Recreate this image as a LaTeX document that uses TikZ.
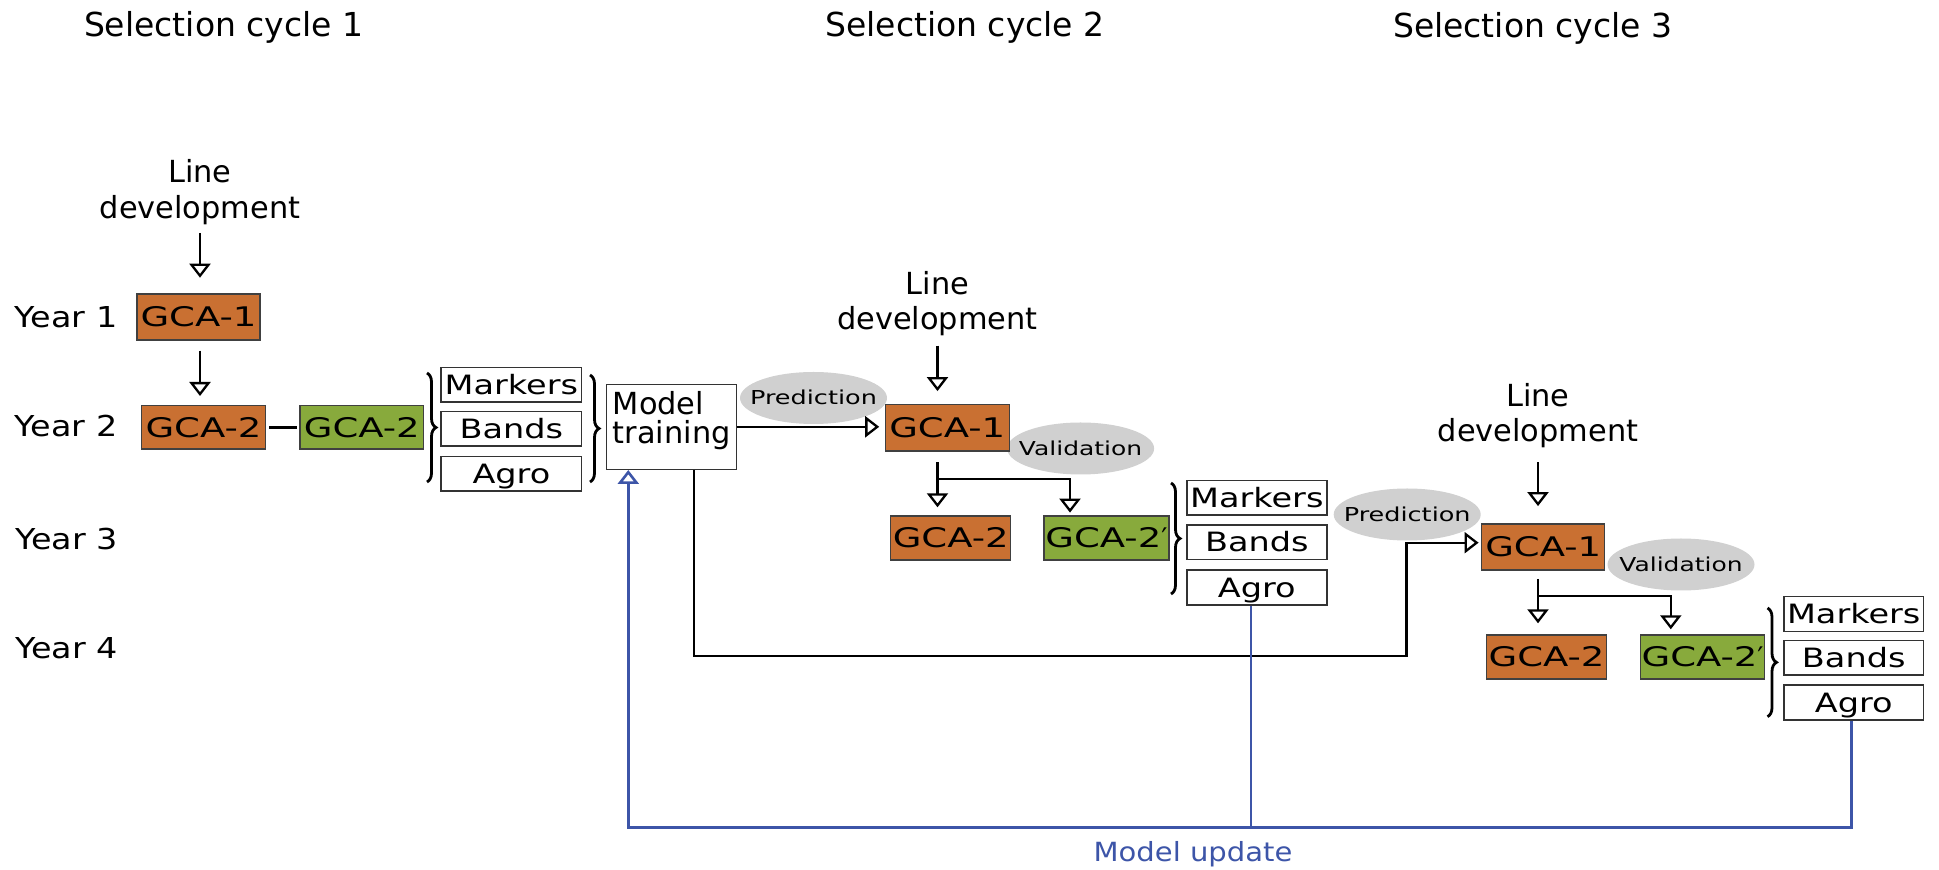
\documentclass[tikz,border=0pt]{standalone}
\usepackage{fontspec}
\setmainfont{DejaVu Sans}
\usepackage{graphicx}
\usetikzlibrary{arrows.meta,shapes.geometric,decorations.pathreplacing,calc}
\definecolor{gcaor}{HTML}{C97032}
\definecolor{gcagr}{HTML}{88AA3C}
\definecolor{ellgray}{HTML}{D0D0D0}
\definecolor{updblue}{HTML}{3D55A8}
\newcommand{\sx}[2]{\scalebox{#1}[1]{#2}}
\newcommand{\twoc}[3]{\vtop{\baselineskip=#1\halign{\hfil##\hfil\cr#2\cr#3\cr}}}
\newcommand{\twol}[3]{\vtop{\baselineskip=#1\halign{##\hfil\cr#2\cr#3\cr}}}
\begin{document}
\begin{tikzpicture}[x=0.5pt,y=-0.5pt,
 title/.style={font=\fontsize{16.5}{19}\selectfont, inner sep=0pt, anchor=base},
 yearlbl/.style={font=\fontsize{14.4}{17}\selectfont, inner sep=0pt, anchor=base west},
 linedev/.style={font=\fontsize{15.2}{17.75}\selectfont, inner sep=0pt, anchor=base},
 gcabox/.style={draw=black!75, line width=0.7pt, inner sep=0pt, minimum width=62pt, minimum height=22.5pt, font=\fontsize{13.5}{16}\selectfont, text height=9.8pt, text depth=0pt},
 gcao/.style={gcabox, fill=gcaor},
 gcag/.style={gcabox, fill=gcagr},
 databox/.style={draw=black!80, line width=0.7pt, fill=white, inner sep=0pt, minimum width=70pt, minimum height=17.2pt, font=\fontsize{13.3}{16}\selectfont, text height=9.7pt, text depth=0pt},
 mtbox/.style={draw=black!80, line width=0.7pt, fill=white, inner sep=0pt, minimum width=65pt, minimum height=42.5pt, font=\fontsize{15.2}{14.2}\selectfont, text height=11pt, text depth=22.8pt},
 ell/.style={ellipse, fill=ellgray, inner sep=0pt, minimum width=73.5pt, minimum height=26pt, font=\fontsize{9.6}{11}\selectfont, text height=7pt, text depth=0pt},
 conn/.style={line width=1.15pt, black},
 arr/.style={conn, -{Triangle[open, length=7pt, width=10.5pt]}},
 brc/.style={decorate, decoration={brace, amplitude=4.5pt}, line width=1.4pt},
 upd/.style={line width=1.3pt, updblue},
 updarr/.style={upd, -{Triangle[open, length=7pt, width=10.5pt]}},
]
\useasboundingbox (0,0) rectangle (1939,870);

% ellipses (background)
\node[ell] (p2) at (813.5,398) {\makebox[0pt]{\sx{1.33}{Prediction}}};
\node[ell] (v2) at (1080.6,448.5) {\makebox[0pt]{\sx{1.3}{Validation}}};
\node[ell] (p3) at (1407.2,514.5) {\makebox[0pt]{\sx{1.33}{Prediction}}};
\node[ell] (v3) at (1681,564.5) {\makebox[0pt]{\sx{1.3}{Validation}}};

% titles
\node[title] (t1) at (223.7,36.7) {Selection cycle 1};
\node[title] (t2) at (965,36.7) {Selection cycle 2};
\node[title] (t3) at (1532.7,38) {Selection cycle 3};

% years
\node[yearlbl] (y1) at (14.5,327.3) {\sx{1.16}{Year 1}};
\node[yearlbl] (y2) at (14.5,436.7) {\sx{1.16}{Year 2}};
\node[yearlbl] (y3) at (15,549.3) {\sx{1.16}{Year 3}};
\node[yearlbl] (y4) at (15,659) {\sx{1.16}{Year 4}};

% line development
\node[linedev] (ld1) at (200,182.7) {\twoc{17.75pt}{Line}{development}};
\node[linedev] (ld2) at (937.5,294.3) {\twoc{17.75pt}{Line}{development}};
\node[linedev] (ld3) at (1538,406.5) {\twoc{17.75pt}{Line}{development}};

% cycle 1
\node[gcao, minimum width=61.5pt, minimum height=23pt] (g11) at (198.5,317) {\sx{1.37}{GCA-1}};
\node[gcao, minimum height=21.7pt] (g21o) at (203.5,427.4) {\sx{1.37}{GCA-2}};
\node[gcag, minimum width=61.8pt, minimum height=21.7pt] (g21g) at (361.8,427.4) {\sx{1.37}{GCA-2}};
\node[databox, minimum width=70.3pt] (m1) at (511.4,384.9) {\sx{1.26}{Markers}};
\node[databox, minimum width=70.3pt] (b1) at (511.4,429) {\sx{1.26}{Bands}};
\node[databox, minimum width=70.3pt] (a1) at (511.4,473.9) {\sx{1.26}{Agro}};
\node[mtbox] (mt) at (671.7,426.8) {\twol{14.2pt}{Model}{training}};

% cycle 2
\node[gcao, minimum height=23.3pt] (g12) at (947.2,427.7) {\sx{1.37}{GCA-1}};
\node[gcao, minimum width=60pt, minimum height=22pt] (g22o) at (950.7,538) {\sx{1.37}{GCA-2}};
\node[gcag, minimum width=62.4pt, minimum height=22pt] (g22g) at (1106.4,538) {\sx{1.37}{GCA-2}′};
\node[databox] (m2) at (1256.8,497.8) {\sx{1.26}{Markers}};
\node[databox] (b2) at (1256.8,542.2) {\sx{1.26}{Bands}};
\node[databox, minimum height=17.5pt] (a2) at (1256.8,587.5) {\sx{1.26}{Agro}};

% cycle 3
\node[gcao, minimum width=61.5pt, minimum height=23pt] (g13) at (1543.2,547) {\sx{1.37}{GCA-1}};
\node[gcao, minimum width=60pt, minimum height=22pt] (g23o) at (1546.5,657) {\sx{1.37}{GCA-2}};
\node[gcag, minimum height=22pt] (g23g) at (1702.6,657) {\sx{1.37}{GCA-2}′};
\node[databox, minimum width=69.8pt, minimum height=17.5pt] (m3) at (1853.7,614.2) {\sx{1.26}{Markers}};
\node[databox, minimum width=69.8pt] (b3) at (1853.7,657.8) {\sx{1.26}{Bands}};
\node[databox, minimum width=69.8pt, minimum height=17.5pt] (a3) at (1853.7,702.5) {\sx{1.26}{Agro}};

% braces
\draw[brc] (427,373) -- (427,482);
\draw[brc] (590,375) -- (590,482);
\draw[brc] (1171,483) -- (1171,594);
\draw[brc] (1767.5,608) -- (1767.5,716.7);

% connectors cycle 1
\draw[arr, shorten <=3.95pt, shorten >=7.8pt] (ld1.south) -- (ld1.south |- g11.north);
\draw[arr, shorten <=5pt, shorten >=4.5pt] (ld1.south |- g11.south) -- (ld1.south |- g21o.north);
\draw[conn, shorten <=1.5pt, shorten >=1pt] (g21o.east) -- (g21g.west);
\draw[arr, shorten >=2.65pt] (mt.east) -- (mt.east -| g12.west);

% connectors cycle 2
\draw[arr, shorten <=4.5pt, shorten >=6.3pt] (ld2.south) -- (ld2.south |- g12.north);
\coordinate (s2) at (937.5,479);
\coordinate (s2r) at (1070,479);
\draw[arr, shorten <=5.3pt, shorten >=4pt] (s2 |- g12.south) -- (s2 |- g22o.north);
\draw[arr, shorten >=1.35pt] (s2) -- (s2r) -- (s2r |- g22g.north);

% connectors cycle 3
\draw[arr, shorten <=6.75pt, shorten >=8.6pt] (ld3.south) -- (ld3.south |- g13.north);
\coordinate (s3) at (1538,595.7);
\coordinate (s3r) at (1670.8,595.7);
\draw[arr, shorten <=4.15pt, shorten >=5.5pt] (s3 |- g13.south) -- (s3 |- g23o.north);
\draw[arr, shorten >=2.5pt] (s3) -- (s3r) -- (s3r |- g23g.north);

% model training to cycle 3 prediction
\coordinate (L1) at (694,655.7);
\coordinate (L2) at (1406.5,655.7);
\coordinate (L3) at (1406.5,542.7);
\draw[arr, shorten >=1.2pt] (L1 |- mt.south) -- (L1) -- (L2) -- (L3) -- (L3 -| g13.west);

% model update
\coordinate (U1) at (628.3,827.7);
\coordinate (U2) at (1251,827.7);
\coordinate (U3) at (1851.4,827.7);
\draw[updarr] (U3 |- a3.south) -- (U3) -- (U1) -- (U1 |- mt.south);
\draw[upd] (U2 |- a2.south) -- (U2);
\node[font=\fontsize{13.2}{15}\selectfont, text=updblue, inner sep=0pt, anchor=base] (mu) at (1193,861.7) {\sx{1.1}{Model update}};
\end{tikzpicture}
\end{document}
